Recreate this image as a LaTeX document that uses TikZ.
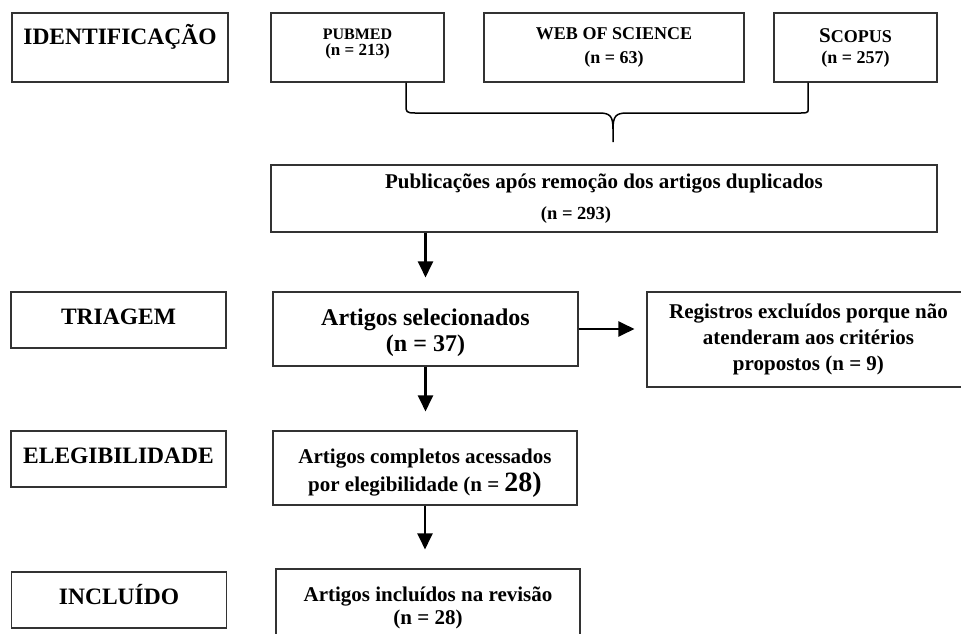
\documentclass[tikz,border=0pt]{standalone}
\usepackage{fontspec}
\setmainfont{Liberation Serif}
\usepackage{tikz}
\usetikzlibrary{arrows.meta, positioning, calc}

\begin{document}
\begin{tikzpicture}[
  x=1pt, y=-1pt,
  stagebox/.style = {draw=black!80, line width=1.1pt, inner sep=0pt,
                     minimum width=215pt, minimum height=56pt,
                     text height=16pt, text depth=7pt,
                     font=\fontsize{23.5}{28}\selectfont\bfseries},
  srcbox/.style   = {draw=black!80, line width=1.1pt, inner sep=0pt,
                     minimum height=69pt, align=center},
  flowbox/.style  = {draw=black!80, line width=1.1pt, inner sep=0pt,
                     align=center},
  flowarrow/.style = {-{Triangle[length=16pt,width=15pt]}, line width=2.2pt},
  bracket/.style  = {line width=1.5pt},
]
\useasboundingbox (0,0) rectangle (961,634);

%% -- stages on the left -------------------------------------------------
\node[stagebox, minimum width=216pt, minimum height=69pt,
      text height=17pt, text depth=22pt] (ident) at (120,47.5) {IDENTIFICAÇÃO};
\node[stagebox] (triagem) at (118.5,320) {TRIAGEM};
\node[stagebox] (elegib)  at (118.5,459) {ELEGIBILIDADE};
\node[stagebox] (incllbl) at (119,600)   {INCLUÍDO};

%% -- databases ------------------------------------------------------------
\node[srcbox, minimum width=173pt, font=\fontsize{16}{16}\selectfont\bfseries]
  (pubmed) at (357.5,47.5)
  {PUBMED\\{\fontsize{17}{16}\selectfont (n = 213)}\rule[-10.5pt]{0pt}{1pt}};
\node[srcbox, minimum width=260pt, font=\fontsize{18}{24}\selectfont\bfseries]
  (wos) at (614,47.5) {WEB OF SCIENCE\\(n = 63)};
\node[srcbox, minimum width=163pt, font=\fontsize{18}{21}\selectfont\bfseries]
  (scopus) at (855.5,47.5)
  {{\fontsize{21}{21}\selectfont S}COPUS\\(n = 257)};

%% -- main flow ------------------------------------------------------------
\node[flowbox, minimum width=666pt, minimum height=67pt,
      font=\fontsize{21}{31}\selectfont\bfseries] (pub) at (604,198.5)
  {Publicações após remoção dos artigos duplicados\\
   {\fontsize{18.5}{31}\selectfont (n = 293)}\kern56pt};
\node[flowbox, minimum width=305pt, minimum height=74pt,
      font=\fontsize{24}{26}\selectfont\bfseries] (sel) at (425.5,329)
  {\rule{0pt}{24.3pt}Artigos selecionados\\(n = 37)};
\node[flowbox, minimum width=323pt, minimum height=95pt,
      font=\fontsize{21}{26}\selectfont\bfseries] (excl) at (808.5,339.5)
  {Registros excluídos porque não\\atenderam aos critérios\\propostos (n = 9)};
\node[flowbox, minimum width=304pt, minimum height=74pt,
      font=\fontsize{21}{28.5}\selectfont\bfseries] (compl) at (425,468)
  {\rule{0pt}{25pt}Artigos completos acessados\\
   por elegibilidade (n = {\fontsize{28}{28.5}\selectfont 28)}};
\node[flowbox, minimum width=304pt, minimum height=77pt,
      font=\fontsize{21}{23}\selectfont\bfseries] (incl) at (428,607.5)
  {Artigos incluídos na revisão\\(n = 28)};

%% -- brace joining the three databases -----------------------------------
\coordinate (bar) at (613,113);
\coordinate (tip) at (613,142);
\draw[bracket]
  ([xshift=48.5pt]pubmed.south) -- ([xshift=48.5pt,yshift=-23pt]pubmed.south)
  .. controls ([xshift=48.5pt,yshift=-29pt]pubmed.south) and ([xshift=-207pt]bar)
  .. ([xshift=-198pt]bar) -- ([xshift=-14pt]bar)
  .. controls ([xshift=-3pt]bar) and ([yshift=-3pt]bar) .. ([yshift=-16pt]bar) -- (tip);
\draw[bracket]
  ([xshift=-47.5pt]scopus.south) -- ([xshift=-47.5pt,yshift=-23pt]scopus.south)
  .. controls ([xshift=-47.5pt,yshift=-29pt]scopus.south) and ([xshift=197pt]bar)
  .. ([xshift=188pt]bar) -- ([xshift=14pt]bar)
  .. controls ([xshift=3pt]bar) and ([yshift=-3pt]bar) .. ([yshift=-16pt]bar);

%% -- arrows ---------------------------------------------------------------
\draw[flowarrow, shorten >=14pt] (pub.south -| sel.north) -- (sel.north);
\draw[flowarrow, shorten >=12pt] (sel.east) -- (excl.west |- sel.east);
\draw[flowarrow, shorten >=19pt] (sel.south) -- (sel.south |- compl.north);
\draw[flowarrow, shorten >=19pt] (compl.south) -- (compl.south |- incl.north);

\end{tikzpicture}
\end{document}
